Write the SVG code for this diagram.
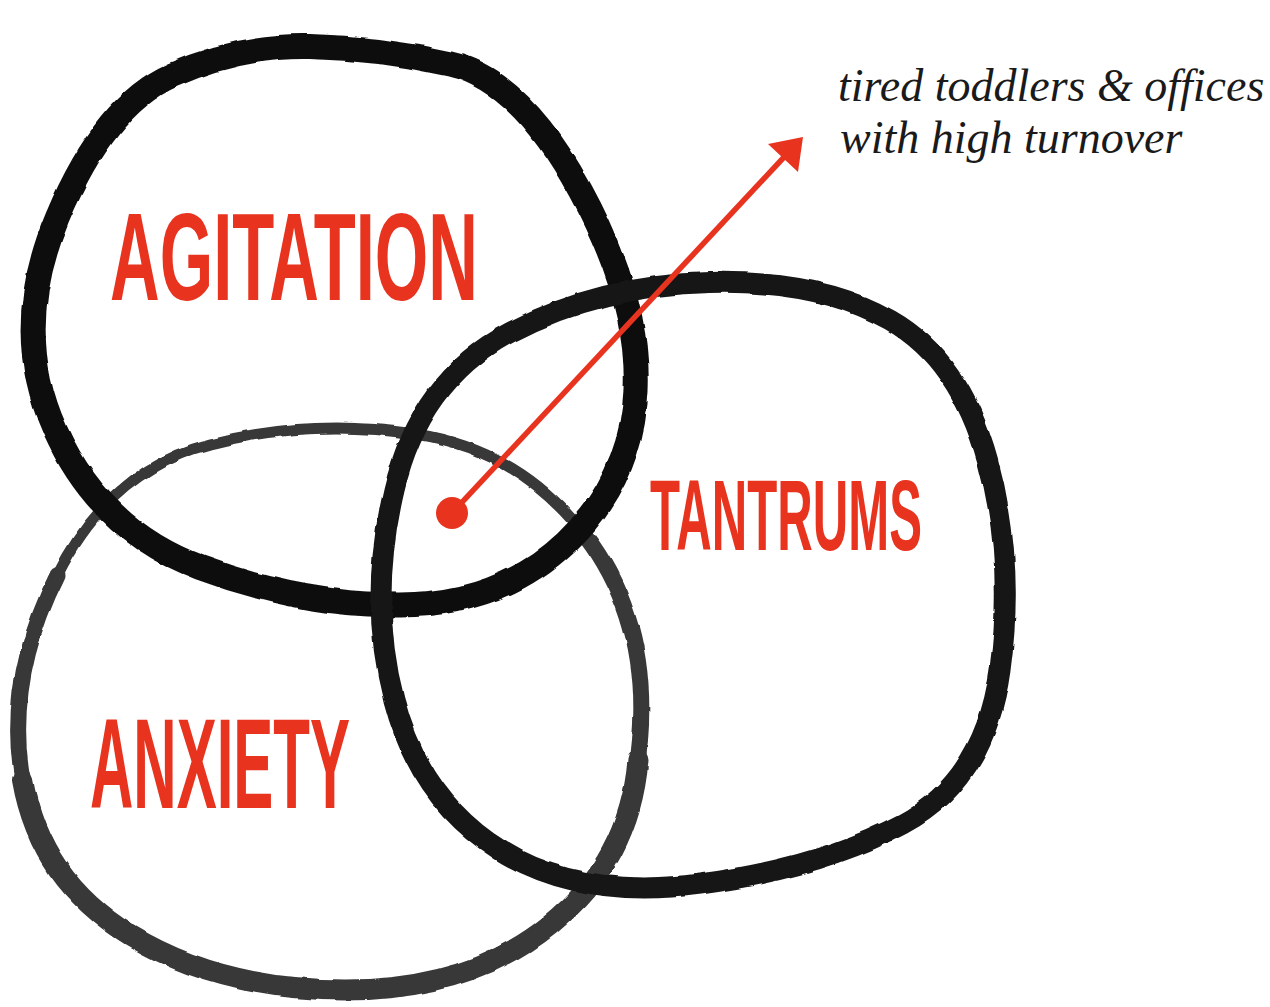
<svg xmlns="http://www.w3.org/2000/svg" width="1270" height="1007" viewBox="0 0 1270 1007">
<defs>
<filter id="rough" x="-5%" y="-5%" width="110%" height="110%">
<feTurbulence type="fractalNoise" baseFrequency="0.035" numOctaves="3" seed="7"/>
<feDisplacementMap in="SourceGraphic" scale="4" xChannelSelector="R" yChannelSelector="G"/>
</filter>
</defs>
<style>
.ring{fill:none;stroke-linejoin:round;stroke-linecap:round}
.lbl{font-family:"Liberation Sans",Arial,sans-serif;font-weight:bold;fill:#e8331f}
.note{font-family:"Liberation Serif","Times New Roman",serif;font-style:italic;font-size:46px;fill:#1a1a1a}
</style>
<rect width="1270" height="1007" fill="#ffffff"/>
<g id="anxiety">
<g filter="url(#rough)" stroke="#383838">
<path class="ring" stroke-width="11" d="M415,434 Q520,450 585,535 Q650,620 640,740 Q630,860 550,925 Q470,990 345,990 Q220,990 130,935 Q40,880 22.5,780 Q5,680 57.5,575 Q110,470 210,444 Q310,418 415,434 Z"/>
<path class="ring" stroke-width="16" d="M585,535 Q650,620 640,740 Q630,860 550,925 Q470,990 345,990 Q220,990 130,935 Q40,880 22.5,780 Q5,680 57.5,575"/>
<path class="ring" stroke-width="21" d="M638,760 Q630,860 550,925 Q470,990 345,990 Q220,990 130,935 Q40,880 22.5,780"/>
</g>
<text class="lbl" x="90" y="808" font-size="128" textLength="260" lengthAdjust="spacingAndGlyphs">ANXIETY</text>
</g>
<g id="agitation">
<path class="ring" filter="url(#rough)" stroke="#0e0e0e" stroke-width="25" d="M450,64 Q520,80 580,190 Q640,300 636,390 Q632,480 566,542.5 Q500,605 400,605 Q300,605 200,567.5 Q100,530 55,430 Q10,330 57.5,217.5 Q105,105 172.5,75 Q240,45 310,46.5 Q380,48 450,64 Z"/>
<text class="lbl" x="110" y="300" font-size="125" textLength="368" lengthAdjust="spacingAndGlyphs">AGITATION</text>
</g>
<g id="tantrums">
<path class="ring" filter="url(#rough)" stroke="#161616" stroke-width="21" d="M710,282.5 Q820,280 890,320 Q960,360 987.5,460 Q1015,560 1000,670 Q985,780 902.5,824 Q820,868 700,884 Q580,900 500,850 Q420,800 394,700 Q368,600 394,490 Q420,380 510,332.5 Q600,285 710,282.5 Z"/>
<text class="lbl" x="650" y="550" font-size="100" textLength="272" lengthAdjust="spacingAndGlyphs">TANTRUMS</text>
</g>
<g id="connectors">
<line x1="452" y1="513" x2="786" y2="155" stroke="#e8331f" stroke-width="5.5"/>
<polygon points="803,137 768,144 798,172" fill="#e8331f"/>
<circle cx="452" cy="513" r="16" fill="#e8331f"/>
</g>
<g id="note">
<text class="note" x="838" y="101">tired toddlers &amp; offices</text>
<text class="note" x="840" y="153">with high turnover</text>
</g>
</svg>
